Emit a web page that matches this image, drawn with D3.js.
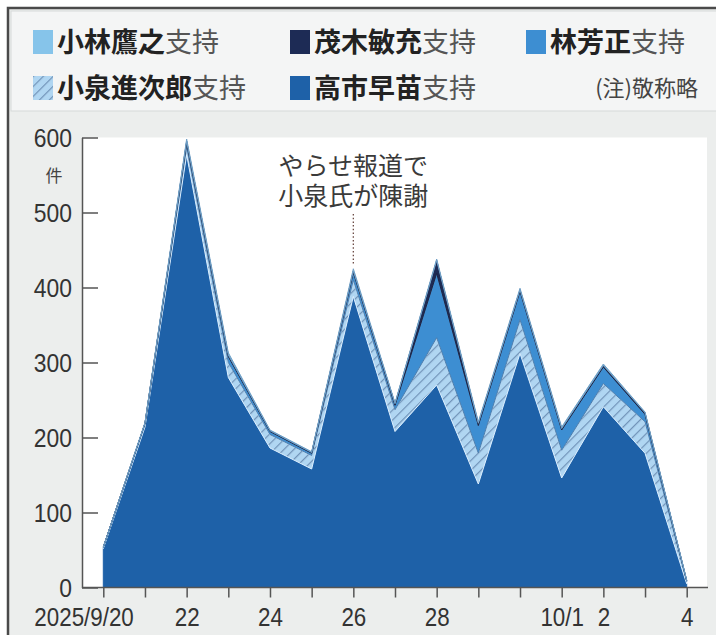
<!DOCTYPE html>
<html>
<head>
<meta charset="utf-8">
<script src="https://cdn.jsdelivr.net/npm/d3@7"></script>
<style>
  html, body { margin: 0; padding: 0; background: #ffffff; }
  svg { display: block; }
</style>
</head>
<body>
<div id="chart"></div>
<script>
// Daily counts of posts supporting each candidate, 2025/9/20 – 10/4
const dates = ["2025-09-20","2025-09-21","2025-09-22","2025-09-23","2025-09-24","2025-09-25","2025-09-26",
               "2025-09-27","2025-09-28","2025-09-29","2025-09-30","2025-10-01","2025-10-02","2025-10-03","2025-10-04"];
const takaichi  = [52, 214, 577, 280, 186, 158, 388, 208, 270, 138, 312, 146, 241, 179, 5];
const koizumi   = [1, 3, 10, 20, 18, 18, 22, 29, 63, 41, 45, 37, 31, 42, 3];
const hayashi   = [1, 2, 6, 8, 4, 3, 10, 6, 86, 37, 38, 27, 22, 10, 1];
const motegi    = [0, 0, 2, 2, 1, 1, 2, 2, 17, 3, 2, 2, 2, 2, 0];
const kobayashi = [0, 1, 3, 3, 1, 1, 3, 1, 2, 2, 2, 2, 2, 1, 1];

const seriesKeys = ["takaichi", "koizumi", "hayashi", "motegi", "kobayashi"];
const seriesValues = { takaichi, koizumi, hayashi, motegi, kobayashi };

const yTicks = [0, 100, 200, 300, 400, 500, 600];
const xLabels = { "2025-09-20": "2025/9/20", "2025-09-22": "22", "2025-09-24": "24", "2025-09-26": "26",
                  "2025-09-28": "28", "2025-10-01": "10/1", "2025-10-02": "2", "2025-10-04": "4" };
const yUnit = "件";
const noteLines = ["やらせ報道で", "小泉氏が陳謝"];
const noteDate = "2025-09-26";

// legend rows: [series key, bold name, suffix]
const legendRow1 = [["kobayashi", "小林鷹之", "支持"], ["motegi", "茂木敏充", "支持"], ["hayashi", "林芳正", "支持"]];
const legendRow2 = [["koizumi", "小泉進次郎", "支持"], ["takaichi", "高市早苗", "支持"]];
const footnote = "(注)敬称略";

const colors = {
  takaichi: "#1e61a8",
  koizumi: "url(#hatch)",
  hayashi: "#3d8ed2",
  motegi: "#1d2b55",
  kobayashi: "#86c4ea"
};
const strokes = {
  takaichi: "#1e61a8",
  koizumi: "#dcefff",
  hayashi: "#4f7fae",
  motegi: "#1b2344",
  kobayashi: "#6f9fc6"
};

const W = 716, H = 635;
const numFont = "'Liberation Sans', Arial, sans-serif";
const jpFont = "'Noto Sans CJK JP', 'Noto Sans', sans-serif";

const svg = d3.select("#chart").append("svg").attr("width", W).attr("height", H);

const defs = svg.append("defs");
const pat = defs.append("pattern").attr("id", "hatch")
  .attr("patternUnits", "userSpaceOnUse").attr("width", 7).attr("height", 7)
  .attr("patternTransform", "rotate(45)");
pat.append("rect").attr("width", 7).attr("height", 7).attr("fill", "#b0d6f2");
pat.append("line").attr("x1", 0).attr("y1", 0).attr("x2", 0).attr("y2", 7)
  .attr("stroke", "#7193b8").attr("stroke-width", 2.4);

// panel background and frame
svg.append("rect").attr("x", 0).attr("y", 0).attr("width", W).attr("height", H).attr("fill", "#ffffff");
svg.append("rect").attr("x", 8).attr("y", 8).attr("width", W).attr("height", H).attr("fill", "#eceeed");
svg.append("rect").attr("x", 11).attr("y", 11).attr("width", W).attr("height", 100)
  .attr("fill", "#f4f5f5").attr("stroke", "#d6d9d9").attr("stroke-width", 1);
svg.append("path").attr("d", `M8,${H} V8 H${W}`).attr("fill", "none").attr("stroke", "#4a4a4a").attr("stroke-width", 2.5);

// scales
const parse = d3.utcParse("%Y-%m-%d");
const x = d3.scaleUtc().domain([parse(dates[0]), parse(dates[dates.length - 1])]).range([103.3, 686.7]);
const y = d3.scaleLinear().domain([0, 600]).range([587.5, 137.5]);

// plot area
svg.append("rect").attr("x", 82).attr("y", 137.5).attr("width", 707 - 82).attr("height", 587.5 - 137.5)
  .attr("fill", "#ffffff");

// stacked areas
const rows = dates.map((d, i) => {
  const r = { date: parse(d) };
  seriesKeys.forEach(k => r[k] = seriesValues[k][i]);
  return r;
});
const stack = d3.stack().keys(seriesKeys);
const layers = stack(rows);
const area = d3.area().x(d => x(d.data.date)).y0(d => y(d[0])).y1(d => y(d[1]));

svg.append("g").selectAll("path").data(layers).join("path")
  .attr("d", area)
  .attr("fill", d => colors[d.key])
  .attr("stroke", d => strokes[d.key])
  .attr("stroke-width", 1)
  .attr("stroke-linejoin", "miter");

// condense helper for narrow numerals
function condense(sel, f) {
  sel.each(function () {
    const L = this.getComputedTextLength();
    d3.select(this).attr("textLength", L * f).attr("lengthAdjust", "spacingAndGlyphs");
  });
}

// y axis
const yAxis = d3.axisLeft(y).tickValues(yTicks).tickSize(-16).tickSizeOuter(0).tickPadding(10);
const gy = svg.append("g").attr("transform", "translate(82,0)").call(yAxis);
gy.select(".domain").attr("stroke", "#555").attr("stroke-width", 1.5);
gy.selectAll(".tick line").attr("stroke", "#555").attr("stroke-width", 1.5);
gy.selectAll(".tick text").attr("font-family", numFont).attr("font-size", 26).attr("fill", "#333")
  .attr("dy", "0.33em").call(condense, 0.88);

svg.append("text").attr("x", 54).attr("y", 182).attr("text-anchor", "middle")
  .attr("font-family", jpFont).attr("font-size", 17).attr("fill", "#444").text(yUnit);

// x axis
svg.append("line").attr("x1", 82).attr("x2", 708).attr("y1", 587.5).attr("y2", 587.5)
  .attr("stroke", "#555").attr("stroke-width", 1.5);
const xAxis = d3.axisBottom(x).tickValues(dates.map(parse)).tickSize(10).tickSizeOuter(0)
  .tickFormat(d => xLabels[d3.utcFormat("%Y-%m-%d")(d)] || "");
const gx = svg.append("g").attr("transform", "translate(0,587.5)").call(xAxis);
gx.select(".domain").remove();
gx.selectAll(".tick line").attr("stroke", "#555").attr("stroke-width", 1.5);
gx.selectAll(".tick text").attr("font-family", numFont).attr("font-size", 26).attr("fill", "#333")
  .attr("y", 38.5).attr("dy", 0).call(condense, 0.86);
gx.selectAll(".tick text").filter((d, i) => i === 0).attr("text-anchor", "end").attr("x", 30);

// annotation
const nx = x(parse(noteDate));
const ni = dates.indexOf(noteDate);
const topVal = d3.sum(seriesKeys, k => seriesValues[k][ni]);
svg.append("line").attr("x1", nx).attr("x2", nx).attr("y1", 214).attr("y2", y(topVal) - 3)
  .attr("stroke", "#6b4a44").attr("stroke-width", 1.3).attr("stroke-dasharray", "1.5,2.2");
const note = svg.append("text").attr("text-anchor", "middle")
  .attr("font-family", jpFont).attr("font-size", 25).attr("fill", "#3a3a3a");
note.selectAll("tspan").data(noteLines).join("tspan")
  .attr("x", nx).attr("y", (d, i) => 175 + i * 30).text(d => d);

// legend
function legendItem(g, item, lx, ly) {
  const [key, name, suffix] = item;
  g.append("rect").attr("x", lx).attr("y", ly - 12).attr("width", 20).attr("height", 24)
    .attr("fill", colors[key]);
  const t = g.append("text").attr("x", lx + 24).attr("y", ly).attr("dy", "0.36em")
    .attr("font-family", jpFont).attr("font-size", 27);
  t.append("tspan").attr("font-weight", 700).attr("fill", "#222").text(name);
  t.append("tspan").attr("font-weight", 400).attr("fill", "#555").text(suffix);
}
const lg = svg.append("g");
const colX = [33, 290, 526];
legendRow1.forEach((it, i) => legendItem(lg, it, colX[i], 42));
legendRow2.forEach((it, i) => legendItem(lg, it, colX[i], 88));
lg.append("text").attr("x", 698).attr("y", 88).attr("dy", "0.36em").attr("text-anchor", "end")
  .attr("font-family", jpFont).attr("font-size", 22).attr("fill", "#444").text(footnote);
</script>
</body>
</html>
